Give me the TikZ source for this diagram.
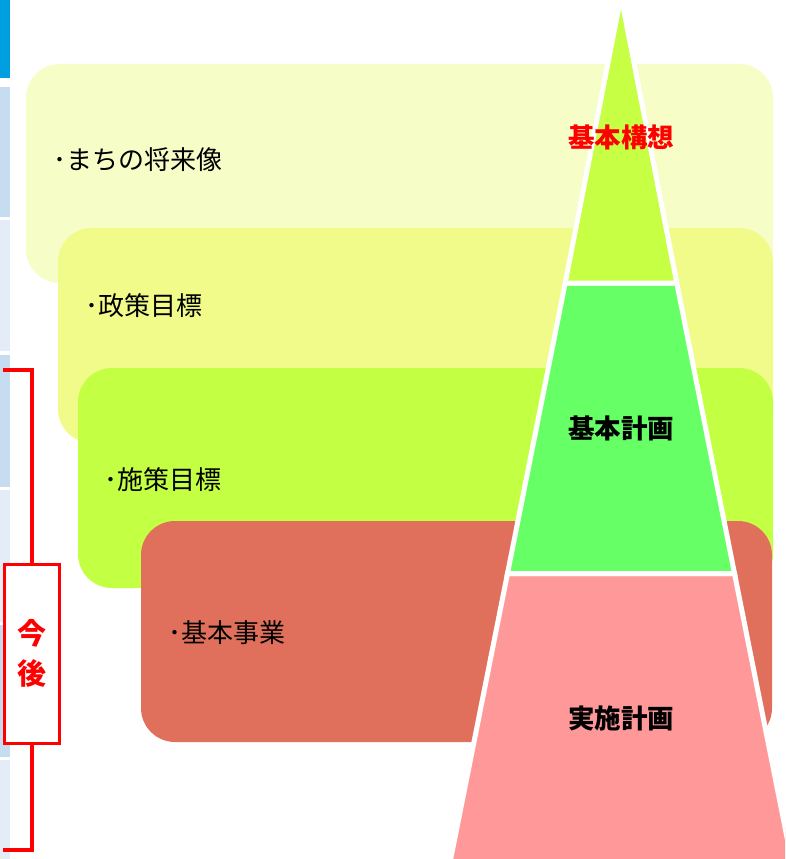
\documentclass[tikz,border=0pt]{standalone}
\usepackage{fontspec}
\newfontfamily\jp{Noto Sans CJK JP}
\usetikzlibrary{positioning}
\definecolor{rA}{HTML}{F6FDC6}
\definecolor{rB}{HTML}{F1FB8A}
\definecolor{rC}{HTML}{C3FF42}
\definecolor{rD}{HTML}{E0705C}
\definecolor{tA}{HTML}{C6FF44}
\definecolor{tB}{HTML}{66FF66}
\definecolor{tC}{HTML}{FF9999}
\definecolor{sA}{HTML}{00A0E0}
\definecolor{sB}{HTML}{C6DCF1}
\definecolor{sC}{HTML}{E4ECF7}
\definecolor{kred}{HTML}{FF0000}
\begin{document}
\begin{tikzpicture}[x=1pt,y=-1pt,
  band/.style={rounded corners=34pt},
  tier/.style={draw=white,line width=5pt,line join=miter},
  lbl/.style={font=\jp\fontsize{26}{26}\selectfont,anchor=west,inner sep=0pt},
  ttl/.style={font=\jp\bfseries\fontsize{26.5}{26.5}\selectfont,inner sep=0pt},
  strip/.style={draw=none}]
\useasboundingbox (0,0) rectangle (785,859);
\fill[white] (0,0) rectangle (785,859);
% bands
\fill[rA,band] (26,64) rectangle (773,283);
\fill[rB,band] (58,228) rectangle (773,443);
\fill[rC,band] (78,368) rectangle (773,588);
\fill[rD,band] (141,521) rectangle (772,742);
\node[lbl] (l1) at (53,160) {･まちの将来像};
\node[lbl] (l2) at (85,306) {･政策目標};
\node[lbl] (l3) at (104,480) {･施策目標};
\node[lbl] (l4) at (168,633) {･基本事業};
% pyramid
\begin{scope}
\clip (0,0) rectangle (785,859);
\filldraw[tier,fill=tC] (507.5,573.5) -- (734.5,573.5) -- (793.5,870) -- (448.5,870) -- cycle;
\filldraw[tier,fill=tB] (565.2,283) -- (676.8,283) -- (734.5,573.5) -- (507.5,573.5) -- cycle;
\filldraw[tier,fill=tA] (621,-4) -- (676.8,283) -- (565.2,283) -- cycle;
\end{scope}
\node[ttl,text=kred] (t1) at (621,137) {基本構想};
\node[ttl] (t2) at (621,428) {基本計画};
\node[ttl] (t3) at (621,718) {実施計画};
% left strip
\fill[sA] (0,0) rectangle (10,78);
\fill[sB] (0,87) rectangle (10,217);
\fill[sC] (0,220) rectangle (10,351);
\fill[sB] (0,355) rectangle (10,487);
\fill[sC] (0,490) rectangle (10,622);
\fill[sB] (0,625) rectangle (10,757);
\fill[sC] (0,760) rectangle (10,859);
% bracket
\node[draw=kred,line width=2.5pt,fill=white,minimum width=55pt,minimum height=179pt,inner sep=0pt,anchor=north west,
  font=\jp\bfseries\fontsize{29}{40}\selectfont,text=kred,align=center] (kon) at (3,563) {今\\後};
\coordinate (bt) at (3,369.5);
\coordinate (bb) at (3,849.5);
\draw[kred,line width=4pt] (bt) -| (kon.north);
\draw[kred,line width=4pt] (bb) -| (kon.south);
\end{tikzpicture}
\end{document}
